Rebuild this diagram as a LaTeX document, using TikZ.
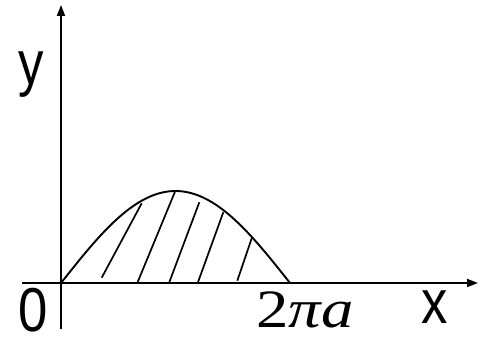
\documentclass[tikz,border=0pt]{standalone}
\usepackage{fontspec}
\setmainfont{Liberation Serif}
\newfontfamily\lsans{Liberation Sans}
\usetikzlibrary{arrows.meta}
\tikzset{
  axis/.style={line width=1.9pt,-{Triangle[length=11pt,width=8pt]}},
  curve/.style={line width=1.9pt},
  hatch/.style={line width=1.7pt},
  sanslabel/.style={anchor=base west,inner sep=0pt,font=\lsans\fontsize{62}{62}\selectfont},
  seriflabel/.style={anchor=base west,inner sep=0pt,font=\fontsize{54}{54}\selectfont}
}
\begin{document}
\begin{tikzpicture}[x=1pt,y=-1pt]
\useasboundingbox (0,0) rectangle (479,339);
\coordinate (O) at (61,283);
\coordinate (yb) at (61,329);
\coordinate (yt) at (61,5);
\coordinate (xl) at (22,283);
\coordinate (xr) at (478,283);
\coordinate (E) at (290,283);
\draw[axis] (yb) -- (yt);
\draw[axis] (xl) -- (xr);
\draw[curve] plot[domain=61:290,samples=80] (\x,{283-92*sin((\x-61)/229*180)});
\draw[hatch] (101.7,277.7) -- (141.7,203.3);
\draw[hatch] (137.3,283) -- (175,191.7);
\draw[hatch] (169,283) -- (199.3,202.3);
\draw[hatch] (197.7,283) -- (223.3,212.3);
\draw[hatch] (237.3,280.7) -- (251.7,238.3);
\node[sanslabel] (ylab) at (18,85) {\scalebox{0.82}[1]{y}};
\node[sanslabel] (zero) at (18,331) {\scalebox{0.85}[1]{0}};
\node[sanslabel] (xlab) at (421,323) {\scalebox{0.85}[1]{x}};
\node[seriflabel] (tpa) at (256,327) {\scalebox{1.2}[1]{2{\itshape πa}}};
\end{tikzpicture}
\end{document}
